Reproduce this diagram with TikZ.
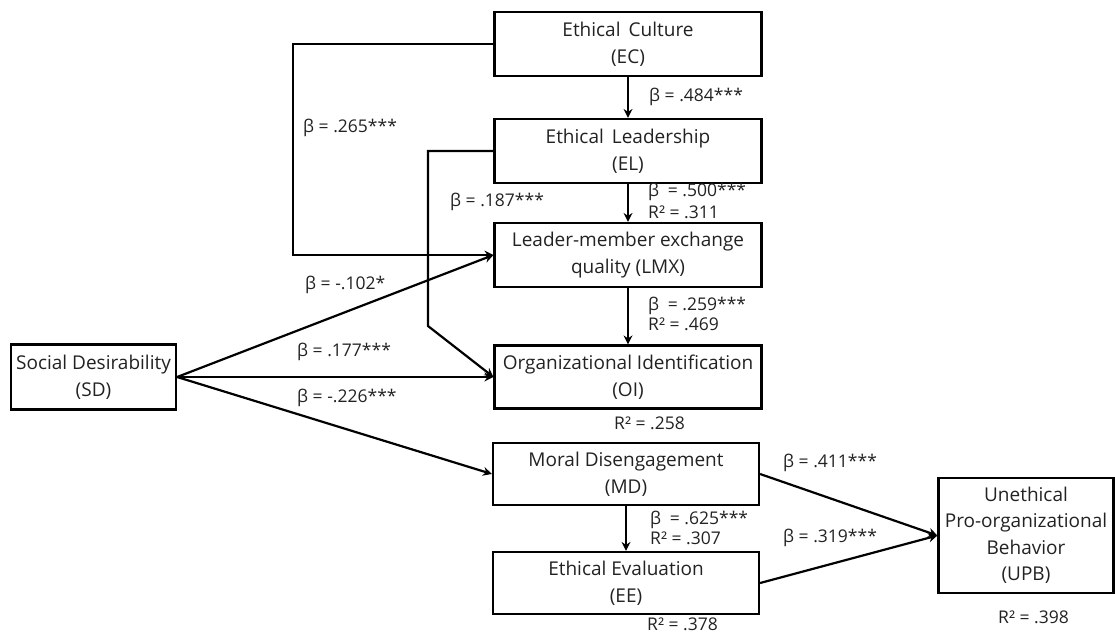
\documentclass[tikz,border=0pt]{standalone}
\usepackage{fontspec}
\setmainfont{Open Sans}
\usetikzlibrary{arrows.meta}
\definecolor{txt}{HTML}{222222}
\begin{document}
\begin{tikzpicture}[x=1pt,y=-1pt,
  box/.style={draw=black, line width=2.2pt, align=center, inner sep=0pt,
    text=txt, font=\fontsize{19}{27}\selectfont},
  lbl/.style={text=txt, font=\fontsize{17.5}{19}\selectfont, inner sep=0pt, anchor=west, align=left},
  con/.style={draw=black, line width=2.2pt},
  arr/.style={con, -{Stealth[length=9pt,width=9pt,inset=3pt]}}]
\useasboundingbox (0,0) rectangle (1115,635);
% boxes
\node[box, minimum width=267pt, minimum height=64pt] (EC) at (628,44) {Ethical\, Culture\\(EC)};
\node[box, minimum width=267pt, minimum height=64pt] (EL) at (628,151) {Ethical\, Leadership\\(EL)};
\node[box, minimum width=267pt, minimum height=64pt] (LMX) at (628,255) {Leader-member exchange\\quality (LMX)};
\node[box, minimum width=267pt, minimum height=63pt] (OI) at (628,377) {Organizational Identification\\(OI)};
\node[box, minimum width=266pt, minimum height=62pt] (MD) at (626,474) {Moral Disengagement\\(MD)};
\node[box, minimum width=266pt, minimum height=62pt] (EE) at (626,583) {Ethical Evaluation\\(EE)};
\node[box, minimum width=165pt, minimum height=65pt] (SD) at (93.5,377) {Social Desirability\\(SD)};
\node[box, minimum width=175pt, minimum height=115pt, font=\fontsize{19}{26.5}\selectfont] (UPB) at (1026,535.5) {Unethical\\Pro-organizational\\Behavior\\(UPB)};
% helper coordinates
\coordinate (ecx) at (293,0);
\coordinate (elx) at (428,326);
% vertical arrows
\draw[arr] (EC) -- (EL);
\draw[arr] (EL) -- (LMX);
\draw[arr] (LMX) -- (OI);
\draw[arr] (MD) -- (EE);
% EC -> LMX
\draw[arr] (EC.west) -- (EC.west -| ecx) |- (LMX.west);
% EL -> OI
\draw[arr] (EL.west) -- (EL.west -| elx) -- (elx) -- (OI.west);
% SD paths
\draw[arr] (SD.east) -- (LMX.west);
\draw[arr] (SD.east) -- (OI.west);
\draw[arr] (SD.east) -- (MD.west);
% to UPB
\draw[arr] (MD.east) -- (UPB.west);
\draw[arr] (EE.east) -- (UPB.west);
% labels
\node[lbl] (l1) at (649,97) {β = .484***};
\node[lbl] (l2) at (303,128) {β = .265***};
\node[lbl] (l3) at (450,202) {β = .187***};
\node[lbl] (l4) at (648,192) {β\enspace = .500***};
\node[lbl] (l5) at (648,212) {R² = .311};
\node[lbl] (l6) at (305,285) {β = -.102*};
\node[lbl] (l7) at (648,306) {β\enspace = .259***};
\node[lbl] (l8) at (648,324) {R² = .469};
\node[lbl] (l9) at (297,352) {β = .177***};
\node[lbl] (l10) at (297,398) {β = -.226***};
\node[lbl] (l11) at (614,423) {R² = .258};
\node[lbl] (l12) at (783,463) {β = .411***};
\node[lbl] (l13) at (783,538) {β = .319***};
\node[lbl] (l14) at (650,520) {β\enspace = .625***};
\node[lbl] (l15) at (650,538) {R² = .307};
\node[lbl] (l16) at (647,624) {R² = .378};
\node[lbl] (l17) at (998,617) {R² = .398};
\end{tikzpicture}
\end{document}
